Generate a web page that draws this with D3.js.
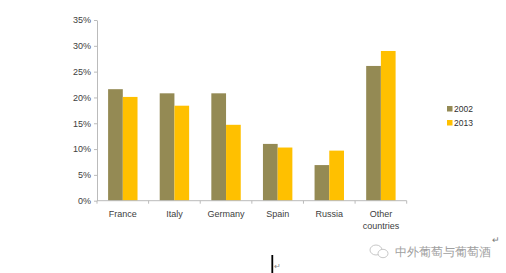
<!DOCTYPE html>
<html><head><meta charset="utf-8">
<script src="https://cdn.jsdelivr.net/npm/d3@7"></script>
<style>
html,body{margin:0;padding:0;background:#fff;}
svg{display:block;}
text{font-family:"Liberation Sans",Arial,sans-serif;}
</style></head>
<body>
<svg id="chart" width="506" height="273"></svg>
<script>
const categories = ["France","Italy","Germany","Spain","Russia","Other countries"];
const seriesNames = ["2002","2013"];
const values2002 = [21.6, 20.8, 20.8, 11.0, 6.9, 26.1];
const values2013 = [20.1, 18.4, 14.7, 10.3, 9.7, 29.0];
const yTicks = [0,5,10,15,20,25,30,35];
const colors = ["#948A54","#FFC000"];

(function(){
const svg = d3.select("#chart");
const mLeft = 97, mRight = 406.7, mTop = 20, mBottom = 200.7;

const x = d3.scaleBand().domain(categories).range([mLeft, mRight]).paddingInner(0.43).paddingOuter(0.215);
const xs = d3.scaleBand().domain(seriesNames).range([0, x.bandwidth()]);
const y = d3.scaleLinear().domain([0,35]).range([mBottom, mTop]);

// bars
const series = [values2002, values2013];
series.forEach((vals, si) => {
  svg.append("g").selectAll("rect").data(categories).join("rect")
    .attr("x", (c) => x(c) + xs(seriesNames[si]))
    .attr("y", (c, i) => y(vals[i]))
    .attr("width", xs.bandwidth())
    .attr("height", (c, i) => y(0) - y(vals[i]))
    .attr("fill", colors[si]);
});

// y axis
const yAxis = d3.axisLeft(y).tickValues(yTicks).tickFormat(d => d + "%").tickSize(3).tickSizeOuter(0);
const gy = svg.append("g").attr("transform", `translate(${mLeft},0)`).call(yAxis);
gy.select(".domain").attr("stroke", "#bbbbbb");
gy.selectAll(".tick line").attr("stroke", "#bbbbbb");
gy.selectAll(".tick text").attr("fill", "#404040").attr("font-size", "9px").attr("x", -6);

// x axis
const gx = svg.append("g").attr("transform", `translate(0,${mBottom})`);
gx.append("line").attr("x1", mLeft).attr("x2", mRight).attr("y1", 0).attr("y2", 0).attr("stroke", "#bbbbbb");
const step = (mRight - mLeft) / categories.length;
const bounds = d3.range(categories.length + 1).map(i => mLeft + i * step);
gx.selectAll("line.tk").data(bounds).join("line").attr("class","tk")
  .attr("x1", d => d).attr("x2", d => d).attr("y1", 0).attr("y2", 3).attr("stroke", "#bbbbbb");
const labels = gx.selectAll("text.cat").data(categories).join("text").attr("class","cat")
  .attr("x", c => x(c) + x.bandwidth()/2)
  .attr("text-anchor", "middle").attr("fill", "#404040").attr("font-size", "9px");
labels.each(function(c){
  const t = d3.select(this);
  const parts = c === "Other countries" ? ["Other","countries"] : [c];
  parts.forEach((p, i) => t.append("tspan").attr("x", x(c) + x.bandwidth()/2).attr("y", 16 + i*12.5).text(p));
});

// legend
const lg = svg.append("g").attr("transform", "translate(447,0)");
seriesNames.forEach((s, i) => {
  const yy = 109 + i * 14;
  lg.append("rect").attr("x", 0).attr("y", yy - 3).attr("width", 5.5).attr("height", 5.5).attr("fill", colors[i]);
  lg.append("text").attr("x", 7).attr("y", yy + 3).attr("font-size", "8.5px").attr("fill", "#303030").text(s);
});

// watermark
const wm = svg.append("g");
wm.append("ellipse").attr("cx", 376).attr("cy", 250).attr("rx", 6).attr("ry", 5).attr("fill", "none").attr("stroke", "#c8c8c8").attr("stroke-width", 1);
wm.append("ellipse").attr("cx", 383).attr("cy", 253.5).attr("rx", 5).attr("ry", 4.2).attr("fill", "#fff").attr("stroke", "#c8c8c8").attr("stroke-width", 1);
wm.append("text").attr("x", 395).attr("y", 256).attr("font-size", "12px")
  .attr("font-family", "'Noto Sans CJK SC',sans-serif").attr("fill", "#a0a0a0").attr("textLength", 96).text("中外葡萄与葡萄酒");
svg.append("text").attr("x", 492).attr("y", 243).attr("font-size", "9px").attr("fill", "#777").attr("font-family","'DejaVu Sans',sans-serif").text("↵");

// cursor
svg.append("line").attr("x1", 272.3).attr("x2", 272.3).attr("y1", 255).attr("y2", 273).attr("stroke", "#000").attr("stroke-width", 1.8);
svg.append("text").attr("x", 273.5).attr("y", 269).attr("font-size", "8px").attr("fill", "#888").attr("font-family","'DejaVu Sans',sans-serif").text("↵");
})();
</script>
</body></html>
